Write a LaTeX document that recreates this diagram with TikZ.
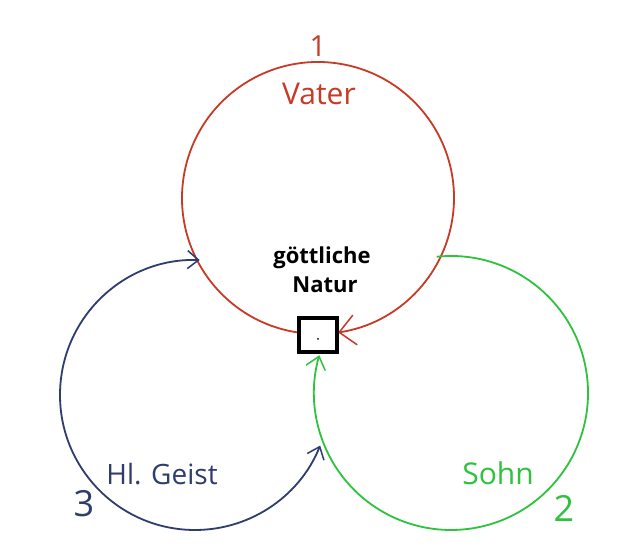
\documentclass[tikz,border=0pt]{standalone}
\usepackage{fontspec}
\setmainfont{Open Sans}
\usetikzlibrary{arrows.meta,calc}
\definecolor{vred}{HTML}{C63A26}
\definecolor{gblue}{HTML}{2E3C6E}
\definecolor{sgreen}{HTML}{2EC23E}
\tikzset{
  ring/.style={line width=1.8pt},
  lbl/.style={inner sep=0pt, font=\fontsize{30}{32}\selectfont},
  num/.style={inner sep=0pt, font=\fontsize{36}{38}\selectfont},
}
\begin{document}
\begin{tikzpicture}[x=1pt,y=1pt]
  \useasboundingbox[fill=white] (0,0) rectangle (621,556);

  % centres of the three circles
  \coordinate (cR) at (318,358);
  \coordinate (cB) at (195,161);
  \coordinate (cG) at (451,163);

  % start points of the arcs
  \coordinate (sR) at ($(cR)+(261.5:136)$);
  \coordinate (sB) at ($(cB)+(88:135)$);
  \coordinate (sG) at ($(cG)+(96:137)$);

  % Vater
  \draw[ring, vred, -{Straight Barb[length=16pt,width=30pt,line width=1.5pt]}]
    (sR) arc[start angle=261.5, end angle=-81.5, radius=136];
  % Heiliger Geist
  \draw[ring, gblue, {Straight Barb[length=11pt,width=18pt,line width=1.5pt]}-{Straight Barb[length=11pt,width=18pt,line width=1.5pt]}]
    (sB) arc[start angle=88, end angle=338, radius=135];
  % Sohn
  \draw[ring, sgreen, -{Straight Barb[length=12pt,width=20pt,line width=1.5pt]}]
    (sG) arc[start angle=96, end angle=-196, radius=137];

  % the box in the middle
  \node[draw=black, line width=3.2pt, fill=white, minimum width=38pt, minimum height=34pt, inner sep=0pt] (box) at (318,221) {};
  \fill (box.center) ++(0,-4) circle (1pt);

  % labels
  \node[inner sep=0pt, vred, font=\fontsize{29}{31}\selectfont] (n1) at (318,510) {1};
  \node[lbl, vred] (vater) at (319,462) {Vater};
  \node[inner sep=0pt, font=\bfseries\fontsize{22}{24}\selectfont] (goett) at (322,298) {göttliche};
  \node[inner sep=0pt, font=\bfseries\fontsize{22}{24}\selectfont] (natur) at (325,271) {Natur};
  \node[inner sep=0pt, gblue, font=\fontsize{28}{30}\selectfont] (geist) at (162,82) {Hl. Geist};
  \node[num, gblue] (n3) at (84,52) {3};
  \node[lbl, sgreen] (sohn) at (498,83) {Sohn};
  \node[num, sgreen] (n2) at (564,48) {2};
\end{tikzpicture}
\end{document}
